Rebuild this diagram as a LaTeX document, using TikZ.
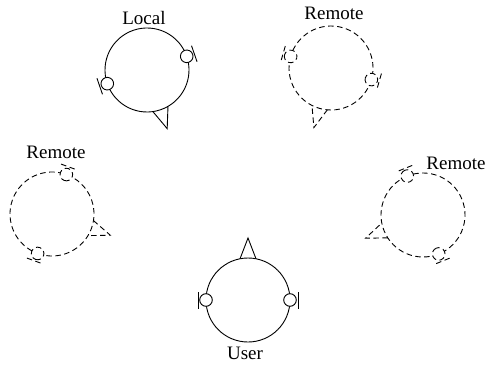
\documentclass[tikz,border=0pt]{standalone}
\usepackage{fontspec}
\setmainfont{Liberation Serif}
\tikzset{
  headline/.style={line width=0.9pt},
  remoteline/.style={headline, dash pattern=on 5.5pt off 3.5pt},
  lbl/.style={font=\fontsize{19}{22}\selectfont, inner sep=0pt},
  pics/head/.style 2 args={code={
    \begin{scope}[rotate=#1]
      \draw[#2] (0,0) circle (42);
      \draw[#2] (-8,41.2) -- (0,62) -- (8,41.2);
      \draw[#2, fill=white] (42,0) circle (6.3);
      \draw[#2, fill=white] (-42,0) circle (6.3);
      \draw[#2] (50,-8.5) -- (50,8.5);
      \draw[#2] (-50,-8.5) -- (-50,8.5);
    \end{scope}
  }}
}
\begin{document}
\begin{tikzpicture}[x=1pt,y=1pt]
\useasboundingbox (0,0) rectangle (489,370);
\pic at (147,300) {head={-161}{headline}};
\pic at (331,302) {head={164}{remoteline}};
\pic at (52,156) {head={-110}{remoteline}};
\pic at (423,155) {head={112}{remoteline}};
\pic at (248,70) {head={0}{headline}};
\node[lbl] (local) at (144,352) {Local};
\node[lbl] (remA) at (334,357) {Remote};
\node[lbl] (remB) at (56,218) {Remote};
\node[lbl] (remC) at (456,207) {Remote};
\node[lbl] (user) at (245,17) {User};
\end{tikzpicture}
\end{document}
